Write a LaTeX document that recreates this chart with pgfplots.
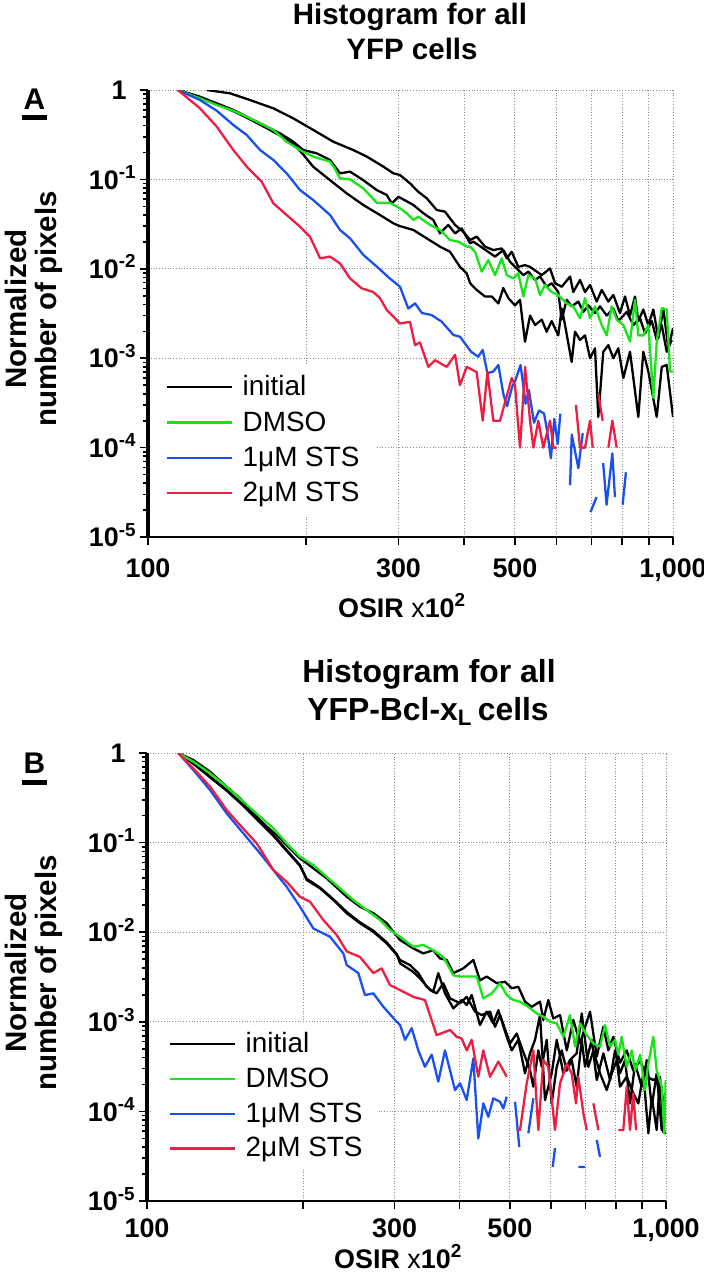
\documentclass[border=0pt]{standalone}
\usepackage{fontspec}
\setmainfont{Liberation Sans}
\usepackage{pgfplots}
\pgfplotsset{compat=1.18}
\definecolor{cgreen}{RGB}{25,228,25}
\definecolor{cblue}{RGB}{25,80,238}
\definecolor{cred}{RGB}{236,30,66}
\newcommand{\ls}{\rule[-3bp]{0pt}{13bp}}
\newcommand{\tickfont}{\bfseries\fontsize{13.5}{16}\selectfont}
\newcommand{\titlefont}{\bfseries\fontsize{14.8}{18}\selectfont}
\newcommand{\titlefontB}{\bfseries\fontsize{16}{19}\selectfont}
\begin{document}
\begin{tikzpicture}
\path[use as bounding box] (0,0) rectangle (352bp,-640bp);

% ---------------- Panel A ----------------
\begin{axis}[at={(74bp,-268.5bp)}, anchor=south west, width=262.5bp, height=223.5bp,
    xmode=log, ymode=log, scale only axis,
    xmin=100, xmax=1000, ymin=1e-5, ymax=1,
    axis lines*=left,
    axis line style={-},
    y axis line style={line width=1.7bp},
    x axis line style={line width=1bp},
    xtick={100,200,300,400,500,600,700,800,900,1000},
    xticklabels={100,,300,,500,,,,,{1,000}},
    ytick={1e-5,1e-4,1e-3,1e-2,1e-1,1},
    yticklabels={10\textsuperscript{-5},10\textsuperscript{-4},10\textsuperscript{-3},10\textsuperscript{-2},10\textsuperscript{-1},1\hspace*{5bp}},
    minor ytick={2e-5,3e-5,4e-5,5e-5,6e-5,7e-5,8e-5,9e-5,2e-4,3e-4,4e-4,5e-4,6e-4,7e-4,8e-4,9e-4,2e-3,3e-3,4e-3,5e-3,6e-3,7e-3,8e-3,9e-3,2e-2,3e-2,4e-2,5e-2,6e-2,7e-2,8e-2,9e-2,0.2,0.3,0.4,0.5,0.6,0.7,0.8,0.9},
    tick align=outside,
    xtick pos=left, ytick pos=left,
    major tick length=4bp, minor tick length=2.5bp,
    tick style={black, line width=0.8bp},
    grid=major,
    grid style={densely dotted, black!45, line width=0.5bp},
    /pgf/number format/assume math mode=true,
    xticklabel style={font=\tickfont, anchor=base, yshift=-16bp},
    yticklabel style={font=\tickfont, anchor=base east, inner sep=0pt, xshift=-1.5bp, yshift=-4.8bp},
    xlabel={\textbf{OSIR} x\textbf{10\textsuperscript{2}}},
    xlabel style={font=\fontsize{13.5}{16}\selectfont, at={(axis description cs:0.484,0)}, anchor=base, yshift=-40bp},
    unbounded coords=jump,
    legend style={at={(axis description cs:0.0038,0.3848)}, anchor=north west, fill=white, draw=none, inner xsep=7.5bp, inner ysep=5bp, row sep=6.2bp, column sep=5bp, font=\fontsize{14}{16}\selectfont, nodes={inner sep=0pt}},
    legend cell align=left,
    legend image code/.code={\draw[#1] (0bp,0bp) -- (32.5bp,0bp);},
    every axis plot/.append style={line width=1.15bp, line join=round}]
\addplot[black, no markers] coordinates {(129.4,1) (143.3,0.918) (156.4,0.773) (173.3,0.624) (189.1,0.482) (206.5,0.357) (225.4,0.264) (246.1,0.213) (261,0.180) (280.7,0.139) (293.3,0.117) (302,0.112) (315.5,0.0904) (327.2,0.0728) (339.6,0.0615) (354.7,0.0455) (367.9,0.0436) (384.6,0.0309) (398.7,0.026) (410.7,0.021) (422.8,0.0229) (438.5,0.0177) (454.9,0.0162) (471.8,0.0169) (482.3,0.0131) (492.9,0.0155) (507.4,0.0105) (522.5,0.0110) (534.2,0.0105) (550.2,9.3e-3) (562.3,8.5e-3) (583.2,0.0101) (596.1,6.9e-3) (613.8,6.3e-3) (636.7,8.2e-3) (645.8,5.5e-3) (665.1,7.5e-3) (679.8,5.5e-3) (695,6.6e-3) (715.5,4.3e-3) (731.5,5.8e-3) (753.1,4.3e-3) (769.8,5.1e-3) (792.5,3.2e-3) (810.1,4.9e-3) (828.1,3.0e-3) (846.4,4.9e-3) (858.8,2.6e-3) (877.8,3.5e-3) (897.4,2.35e-3) (917.3,3.5e-3) (937.6,1.67e-3) (958.3,3.6e-3) (979.5,1.29e-3) (1000,2.16e-3)};
\addlegendentry{\ls initial}
\addplot[black, no markers, forget plot] coordinates {(114,1) (125.6,0.841) (135.2,0.710) (145.4,0.597) (156.4,0.482) (168.2,0.389) (178.4,0.328) (189.1,0.264) (197.6,0.213) (209.6,0.196) (222.2,0.165) (232.1,0.117) (242.6,0.122) (257.1,0.098) (272.7,0.076) (284.9,0.067) (291.3,0.054) (299.9,0.064) (320.2,0.0518) (334.6,0.0418) (349.5,0.0352) (359.9,0.0249) (373.3,0.0309) (384.6,0.0249) (395.8,0.0283) (410.7,0.0193) (416.6,0.0201) (435.2,0.0169) (458.1,0.0137) (475.1,0.0162) (489.3,0.0120) (504,0.0101) (518.8,8.5e-3) (530.3,9.3e-3) (546.1,7.5e-3) (558.2,8.2e-3) (574.5,6.3e-3) (587.3,6.9e-3) (604.6,5.5e-3) (613.8,2.7e-3) (627.4,4.5e-3) (641.2,3.8e-3) (660.2,4.3e-3) (674.8,3.3e-3) (689.9,3.9e-3) (710.3,3.2e-3) (726.1,3.8e-3) (747.7,3.0e-3) (769.8,3.6e-3) (786.9,2.6e-3) (816.3,3.3e-3) (840.4,2.35e-3) (865.3,2.8e-3) (884.5,1.9e-3) (911,2.6e-3) (931.1,1.6e-3) (951.7,2.35e-3) (972.8,1.18e-3) (994.3,1.6e-3)};
\addplot[black, no markers, forget plot] coordinates {(114,1) (125.6,0.83) (135.2,0.70) (145.4,0.58) (156.4,0.47) (168.2,0.375) (178.4,0.31) (189.1,0.25) (197.6,0.19) (206.3,0.139) (222.2,0.098) (239,0.0699) (257.1,0.0517) (276.6,0.040) (293.3,0.0323) (302,0.030) (320.2,0.0272) (339.6,0.0219) (359.9,0.0177) (376.1,0.0155) (392.9,0.0105) (404.6,8.9e-3) (410.7,6.9e-3) (422.8,5.8e-3) (438.5,4.9e-3) (451.6,4.9e-3) (464.9,4.1e-3) (475.1,6.1e-3) (485.7,4.7e-3) (500,3.9e-3) (511.2,4.5e-3) (522.5,1.53e-3) (534.2,3.0e-3) (546.1,2.35e-3) (562.3,2.7e-3) (574.5,1.98e-3) (587.3,2.6e-3) (604.6,1.8e-3) (613.8,3.6e-3) (622.8,2.35e-3) (641.2,9.1e-4) (650.7,1.98e-3) (665.1,1.6e-3) (679.8,1.8e-3) (695,1.0e-3) (710.3,1.29e-3) (720.6,2.2e-4) (736.5,1.18e-3) (753.1,1.4e-3) (769.8,1.0e-3) (786.9,1.29e-3) (804.3,6e-4) (828.1,1.18e-3) (858.8,2.2e-4) (877.8,1.18e-3) (897.4,7.1e-4) (931.1,2.2e-4) (951.7,8.0e-4) (972.8,8.4e-4) (1000,2.2e-4)};
\addplot[cgreen, no markers] coordinates {(114,1) (125.6,0.807) (135.2,0.679) (145.4,0.586) (154.2,0.502) (163.5,0.424) (173.3,0.357) (183.7,0.264) (194.8,0.213) (206.3,0.180) (222.2,0.158) (226.7,0.133) (232.1,0.103) (242.6,0.100) (257.1,0.0795) (272.7,0.0549) (288.8,0.0549) (302,0.0475) (311.1,0.0418) (320.2,0.0352) (327.1,0.0383) (344.8,0.0309) (360.1,0.0272) (376.1,0.021) (390.1,0.0201) (404.7,0.0177) (410.7,0.0177) (419.8,0.0155) (432.2,9.3e-3) (444.8,0.0125) (458.1,8.5e-3) (471.8,0.0131) (482.3,8.5e-3) (496.4,7.8e-3) (507.4,8.9e-3) (518.8,4.9e-3) (530.3,8.5e-3) (546.1,7.8e-3) (558.2,5.1e-3) (570.3,6.6e-3) (587.3,5.5e-3) (604.6,5.1e-3) (627.4,4.1e-3) (645.8,3.8e-3) (665.1,2.8e-3) (679.8,4.7e-3) (695,2.8e-3) (710.3,3.8e-3) (731.5,2.35e-3) (747.7,1.8e-3) (764,3.8e-3) (781.3,2.7e-3) (804.3,2.35e-3) (828.1,1.53e-3) (846.4,4.5e-3) (858.8,1.8e-3) (877.8,1.8e-3) (897.4,2.35e-3) (917.3,3.6e-4) (931.1,1.53e-3) (951.7,3.6e-3) (972.8,3.5e-3) (987,7.1e-4) (1000,7.1e-4)};
\addlegendentry{\ls DMSO}
\addplot[cblue, no markers] coordinates {(114,1) (125.6,0.773) (135.2,0.586) (145.4,0.406) (154.2,0.314) (163.5,0.213) (173.3,0.165) (183.7,0.117) (194.8,0.076) (206.3,0.0589) (222.2,0.040) (232.1,0.0272) (242.6,0.0219) (257.1,0.0143) (272.7,0.0106) (288.8,7.8e-3) (302,6.3e-3) (313.2,3.6e-3) (322.6,4.1e-3) (332.6,3.2e-3) (346.9,3.04e-3) (362.6,2.56e-3) (381.8,1.82e-3) (392.9,1.74e-3) (412.5,1.18e-3) (425.5,1.04e-3) (434.1,1.24e-3) (443,6.8e-4) (454.8,7.1e-4) (464.9,8.4e-4) (475.5,3.9e-4) (482.8,2.9e-4) (493.9,4.8e-4) (501.2,5.7e-4) (512.4,8.4e-4) (523.9,3.1e-4) (531.5,4.4e-4) (543.5,1.9e-4) (555.7,2.6e-4) (568.1,2.4e-4) (576.7,1.45e-4) (585.3,7.6e-5) (594.1,2.1e-4) (603.1,1.1e-4) (610.1,2.4e-4) (620,nan) (636.7,3.8e-5) (641.4,1.4e-4) (660.2,5.9e-5) (673.1,1.45e-4) (685,nan) (696.5,1.9e-5) (715.1,2.8e-5) (725,nan) (736.2,6.7e-5) (747.3,2.3e-5) (766.4,8.6e-5) (775.3,2.8e-5) (790,nan) (801.7,2.3e-5) (813.4,5.3e-5)};
\addlegendentry{\ls 1μM STS}
\addplot[cred, no markers] coordinates {(114,1) (125.6,0.624) (135.2,0.389) (145.4,0.213) (154.2,0.139) (164.7,0.094) (173.3,0.054) (183.7,0.040) (194.8,0.0296) (203.5,0.0229) (212.7,0.0131) (222.2,0.0137) (232.1,0.0115) (242.6,7.8e-3) (255.3,6.05e-3) (268.6,5.5e-3) (276.6,4.7e-3) (284.9,3.46e-3) (302,2.45e-3) (315.5,2.55e-3) (322.6,1.4e-3) (329.6,1.5e-3) (342,8e-4) (352.3,9.5e-4) (370.6,8e-4) (384.6,1.09e-3) (392.9,5e-4) (404.6,8e-4) (422.7,7e-4) (434.1,2e-4) (443,7e-4) (454.8,2e-4) (468.3,2e-4) (492.9,6e-4) (500,5e-4) (511.2,1e-4) (522.7,8e-4) (534.2,2e-4) (542,1e-4) (553.9,2e-4) (566.2,1e-4) (583.2,2e-4) (591.6,1e-4) (600.4,1e-4) (620,nan) (653.3,3e-4) (665.1,1e-4) (679.8,1e-4) (695,2e-4) (703.1,1e-4) (712,nan) (720.6,4e-4) (734.5,2e-4) (745,nan) (753.2,1e-4) (766.4,2e-4) (781.3,1e-4)};
\addlegendentry{\ls 2μM STS}
\end{axis}

% ---------------- Panel B ----------------
\begin{axis}[at={(73.5bp,-600.5bp)}, anchor=south west, width=259.5bp, height=224bp,
    xmode=log, ymode=log, scale only axis,
    xmin=100, xmax=1000, ymin=1e-5, ymax=1,
    axis lines*=left,
    axis line style={-},
    y axis line style={line width=1.7bp},
    x axis line style={line width=1bp},
    xtick={100,200,300,400,500,600,700,800,900,1000},
    xticklabels={100,,300,,500,,,,,{1,000}},
    ytick={1e-5,1e-4,1e-3,1e-2,1e-1,1},
    yticklabels={10\textsuperscript{-5},10\textsuperscript{-4},10\textsuperscript{-3},10\textsuperscript{-2},10\textsuperscript{-1},1\hspace*{5bp}},
    minor ytick={2e-5,3e-5,4e-5,5e-5,6e-5,7e-5,8e-5,9e-5,2e-4,3e-4,4e-4,5e-4,6e-4,7e-4,8e-4,9e-4,2e-3,3e-3,4e-3,5e-3,6e-3,7e-3,8e-3,9e-3,2e-2,3e-2,4e-2,5e-2,6e-2,7e-2,8e-2,9e-2,0.2,0.3,0.4,0.5,0.6,0.7,0.8,0.9},
    tick align=outside,
    xtick pos=left, ytick pos=left,
    major tick length=4bp, minor tick length=2.5bp,
    tick style={black, line width=0.8bp},
    grid=major,
    grid style={densely dotted, black!45, line width=0.5bp},
    /pgf/number format/assume math mode=true,
    xticklabel style={font=\tickfont, anchor=base, yshift=-14bp},
    yticklabel style={font=\tickfont, anchor=base east, inner sep=0pt, xshift=-1.5bp, yshift=-4.8bp},
    xlabel={\textbf{OSIR} x\textbf{10\textsuperscript{2}}},
    xlabel style={font=\fontsize{13.5}{16}\selectfont, at={(axis description cs:0.484,0)}, anchor=base, yshift=-33.5bp},
    unbounded coords=jump,
    legend style={at={(axis description cs:0.0116,0.3996)}, anchor=north west, fill=white, draw=none, inner xsep=7.5bp, inner ysep=5bp, row sep=5.9bp, column sep=5bp, font=\fontsize{14}{16}\selectfont, nodes={inner sep=0pt}},
    legend cell align=left,
    legend image code/.code={\draw[#1] (0bp,0bp) -- (32.5bp,0bp);},
    every axis plot/.append style={line width=1.15bp, line join=round}]
\addplot[black, no markers] coordinates {(114.9,1) (122.8,0.835) (132.3,0.618) (142.4,0.421) (151.1,0.312) (160.3,0.212) (170.1,0.1505) (177.8,0.1216) (185.8,0.094) (197.1,0.0668) (209.2,0.0517) (221.9,0.040) (242.6,0.0249) (257.2,0.0193) (272.9,0.0163) (289.7,0.0126) (298.3,0.0101) (307.3,8.2e-3) (325.9,6.6e-3) (340.7,5.8e-3) (356.1,6.3e-3) (366.8,5.1e-3) (378.0,4.9e-3) (389.3,3.5e-3) (406.9,3.95e-3) (425.3,4.9e-3) (438.1,2.9e-3) (451.3,3.2e-3) (471.9,2.7e-3) (489.6,2.8e-3) (504.3,2.37e-3) (519.3,2.46e-3) (535.0,1.68e-3) (551.1,1.47e-3) (571.8,1.68e-3) (580.2,1.05e-3) (593.2,1.75e-3) (606.5,1.09e-3) (624.9,1.19e-3) (643.8,4.8e-4) (663.0,1.05e-3) (682.9,5.75e-4) (713.8,1.3e-3) (735.6,4.1e-4) (757.3,8.8e-4) (774.4,4.8e-4) (791.6,6.8e-4) (815.4,3.5e-4) (840.1,4.8e-4) (865.0,2.85e-4) (891.2,3.7e-4) (918.1,2.44e-4) (945.2,2.24e-4) (966.5,2.44e-4) (988.1,1.34e-4) (998.6,1.23e-4)};
\addlegendentry{\ls initial}
\addplot[black, no markers, forget plot] coordinates {(114.9,1) (122.8,0.767) (132.3,0.544) (142.4,0.386) (153.3,0.263) (165.1,0.171) (175.2,0.1216) (185.8,0.0827) (197.1,0.0562) (203.1,0.0383) (215.4,0.0309) (228.6,0.0229) (242.6,0.0163) (257.2,0.0126) (272.9,0.0101) (289.7,7.5e-3) (302.8,5.6e-3) (307.3,4.9e-3) (321.1,4.3e-3) (333.2,3.5e-3) (345.8,2.46e-3) (356.1,2.17e-3) (364.1,3.5e-3) (375.1,2.08e-3) (389.3,1.41e-3) (404.0,1.75e-3) (413.0,1.54e-3) (422.3,1.99e-3) (438.1,9.2e-4) (451.3,1.3e-3) (464.8,9.6e-4) (475.3,1.35e-3) (493.3,6.8e-4) (504.3,4.8e-4) (519.3,6.3e-4) (535.0,2.66e-4) (547.0,4.45e-4) (559.3,6.3e-4) (571.8,1.2e-3) (584.6,1.34e-4) (602.2,2.66e-4) (615.8,6.3e-4) (634.1,2.66e-4) (653.1,3.75e-4) (672.8,4.45e-4) (688.1,1.24e-3) (708.6,3.15e-4) (724.5,4.8e-4) (746.3,2.66e-4) (768.8,1.73e-4) (786.2,2.66e-4) (803.5,3.75e-4) (815.4,1.89e-4) (840.1,2.44e-4) (865.0,1.59e-4) (884.4,1.23e-4) (904.4,2.66e-4) (924.6,5.7e-5) (938.6,1.46e-4) (959.4,6.2e-5) (973.6,2.44e-4) (988.1,5.9e-5) (1000,5.7e-5)};
\addplot[black, no markers, forget plot] coordinates {(114.9,1) (122.8,0.76) (132.3,0.535) (142.4,0.38) (153.3,0.258) (165.1,0.168) (175.2,0.119) (185.8,0.081) (197.1,0.0553) (203.1,0.0395) (215.4,0.0315) (228.6,0.0233) (242.6,0.0168) (257.2,0.0129) (272.9,0.0104) (289.7,7.7e-3) (302.8,5.7e-3) (307.3,4.5e-3) (325.9,3.6e-3) (335.7,3.06e-3) (351.0,2.26e-3) (361.5,2.08e-3) (372.3,2.69e-3) (383.6,1.83e-3) (401.0,1.61e-3) (413.0,1.9e-3) (428.5,1.3e-3) (441.4,1.19e-3) (458.0,1.3e-3) (468.3,8.8e-4) (478.8,1.19e-3) (500.6,5.75e-4) (515.6,7.4e-4) (531.0,4.6e-4) (547.0,2.9e-4) (555.1,1.89e-4) (567.5,4.8e-4) (576.1,3.15e-4) (589.0,6.3e-4) (602.2,1.23e-4) (615.8,3.15e-4) (629.5,4.8e-4) (643.8,2.85e-4) (658.1,3.75e-4) (672.8,1.89e-4) (688.1,6.3e-4) (698.2,3.15e-4) (719.3,6.3e-4) (735.6,2.24e-4) (757.3,4.45e-4) (780.2,2.24e-4) (797.7,4.8e-4) (815.4,2.66e-4) (833.7,3.75e-4) (852.4,1.23e-4) (871.7,3.4e-4) (897.9,1.89e-4) (918.1,3.75e-4) (938.6,1.13e-4) (959.4,2.66e-4) (981.1,6.2e-5) (995.6,1.34e-4)};
\addplot[cgreen, no markers] coordinates {(114.9,1) (122.8,0.80) (132.3,0.593) (142.4,0.421) (153.3,0.286) (165.1,0.1945) (175.2,0.1444) (185.8,0.0982) (197.1,0.0696) (209.2,0.0562) (221.9,0.0416) (235.5,0.0309) (249.7,0.0229) (265.0,0.0177) (281.2,0.0137) (293.9,0.0106) (307.3,8.9e-3) (325.9,6.9e-3) (340.7,7.2e-3) (356.1,6.3e-3) (372.3,5.3e-3) (389.3,3.3e-3) (401.0,3.2e-3) (416.0,3.2e-3) (431.8,3.2e-3) (444.6,1.83e-3) (461.5,2.08e-3) (478.8,2.69e-3) (493.3,1.99e-3) (507.9,1.75e-3) (523.3,1.68e-3) (542.9,1.47e-3) (563.5,1.24e-3) (580.2,1.14e-3) (597.7,1.0e-3) (615.8,9.6e-4) (634.1,6.8e-4) (653.1,1.19e-3) (667.9,5.3e-4) (682.9,9.6e-4) (703.6,7.1e-4) (724.5,5.75e-4) (746.3,5.3e-4) (763.1,9.2e-4) (780.2,5.3e-4) (797.7,6.3e-4) (809.3,4.3e-4) (821.5,6.8e-4) (840.1,3.15e-4) (858.9,4.8e-4) (871.7,2.85e-4) (891.2,4.3e-4) (911.1,1.73e-4) (924.6,3.4e-4) (945.2,6.8e-4) (959.4,2.85e-4) (981.1,1.89e-4) (992.5,5.7e-5) (998.6,2.24e-4)};
\addlegendentry{\ls DMSO}
\addplot[cblue, no markers] coordinates {(114.9,1) (122.8,0.646) (132.3,0.386) (142.4,0.212) (153.3,0.127) (165.1,0.076) (175.2,0.0494) (185.8,0.0322) (197.1,0.0193) (209.2,0.011) (225.2,8.9e-3) (238.9,5.8e-3) (242.6,4.3e-3) (255.3,3.5e-3) (263.0,1.99e-3) (272.9,2.08e-3) (285.4,1.47e-3) (302.8,1.0e-3) (307.3,9.2e-4) (314.2,6.3e-4) (323.6,8.5e-4) (333.2,4.8e-4) (343.2,3.15e-4) (353.6,4.3e-4) (364.1,2.15e-4) (375.1,4.8e-4) (392.2,1.73e-4) (401.0,2.06e-4) (413.0,1.34e-4) (425.3,3.9e-4) (434.8,5.0e-5) (444.6,1.23e-4) (454.6,8.7e-5) (464.8,1.4e-4) (478.8,1.28e-4) (485.9,1.08e-4) (493.3,1.46e-4) (502,nan) (511.8,1.28e-4) (521.6,4.0e-5) (530,nan) (542.9,5.7e-5) (555.1,1.4e-4) (580,nan) (604.9,2.4e-5) (611.1,3.9e-5) (640,nan) (677.7,2.4e-5) (698.2,2.4e-5) (715,nan) (735.6,4.8e-5) (746.3,3.1e-5)};
\addlegendentry{\ls 1μM STS}
\addplot[cred, no markers] coordinates {(114.9,1) (122.8,0.675) (132.3,0.421) (142.4,0.231) (151.1,0.157) (162.7,0.0982) (175.2,0.0494) (185.8,0.0366) (197.1,0.0249) (206.1,0.0219) (218.6,0.0137) (232.0,9.3e-3) (242.6,6.1e-3) (257.2,5.3e-3) (272.9,3.5e-3) (283.3,3.95e-3) (293.9,2.57e-3) (307.3,2.26e-3) (325.9,1.9e-3) (343.2,1.75e-3) (361.5,7.1e-4) (383.6,8.1e-4) (395.1,6.8e-4) (404.0,6.5e-4) (413.0,4.8e-4) (422.3,6.3e-4) (434.8,2.44e-4) (444.6,4.8e-4) (458.0,2.44e-4) (475.3,3.6e-4) (493.3,2.44e-4) (505,nan) (515.6,6.2e-5) (523.3,6.2e-5) (539.0,2.06e-4) (555.1,4.8e-4) (567.5,6.2e-5) (580.2,3.75e-4) (593.2,3.15e-4) (611.1,6.2e-5) (624.9,2.06e-4) (643.8,3.4e-4) (658.1,2.66e-4) (670.8,1.23e-4) (677.7,2.44e-4) (693.1,9.5e-5) (703.6,6.2e-5) (715,nan) (724.5,1.23e-4) (740.9,6.2e-5) (760,nan) (809.3,6.2e-5) (827.4,6.2e-5) (840.1,1.89e-4) (852.4,6.2e-5) (865.0,1.59e-4) (875.5,6.2e-5)};
\addlegendentry{\ls 2μM STS}
\end{axis}

% ---------------- Titles and labels ----------------
\node[font=\titlefont, anchor=base] at (205bp,-12bp) {Histogram for all};
\node[font=\titlefont, anchor=base] at (206bp,-29.5bp) {YFP cells};
\node[font=\titlefontB, anchor=base] at (214.5bp,-341bp) {Histogram for all};
\node[font=\titlefontB, anchor=base] at (214bp,-360bp) {YFP-Bcl-x\textsubscript{L}\,cells};
\node[font=\bfseries\fontsize{14.8}{15}\selectfont, rotate=90, align=center] at (17bp,-154.5bp) {Normalized\\number of pixels};
\node[font=\bfseries\fontsize{14.8}{15}\selectfont, rotate=90, align=center] at (17bp,-486.5bp) {Normalized\\number of pixels};
\node[font=\bfseries\fontsize{15}{17}\selectfont] at (17.25bp,-49.5bp) {A};
\draw[line width=2.5bp] (11bp,-58.75bp) -- (23.5bp,-58.75bp);
\node[font=\bfseries\fontsize{15}{17}\selectfont] at (17.25bp,-381.5bp) {B};
\draw[line width=2.5bp] (11bp,-391bp) -- (23.5bp,-391bp);
\end{tikzpicture}
\end{document}
